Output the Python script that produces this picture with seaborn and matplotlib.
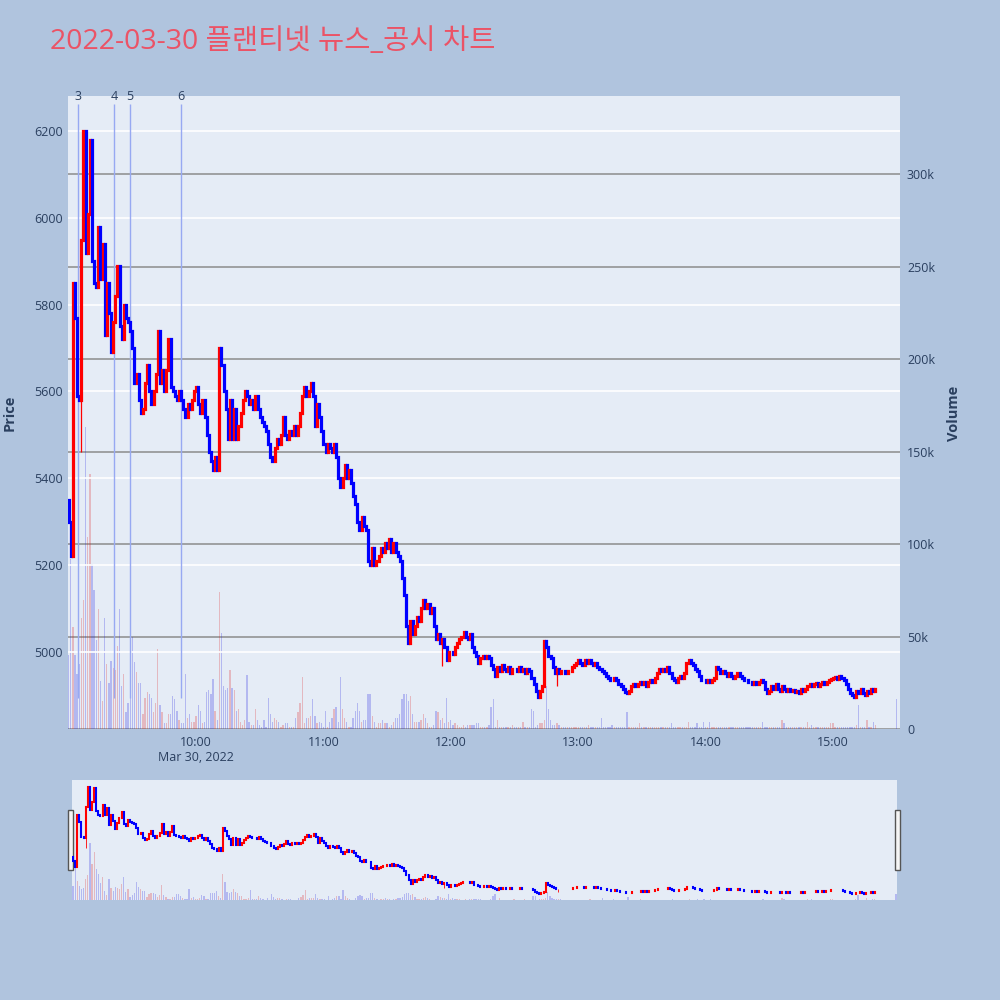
import numpy as np
import pandas as pd
import matplotlib.pyplot as plt
import matplotlib.patches as mpatches
import seaborn as sns

sns.set_theme(style="white")
plt.rcParams['font.family'] = ['Open Sans', 'Noto Sans CJK KR', 'DejaVu Sans']

TITLE = '2022-03-30 플랜티넷 뉴스_공시 차트'

# 1분봉 종가 (09:00 ~ 15:20), 시가 = 직전 종가
first_open = 5350
close_09 = [5300, 5220, 5850, 5770, 5590, 5580, 5950, 6200, 5920, 6010,
            6180, 5900, 5850, 5840, 5980, 5860, 5940, 5730, 5850, 5780,
            5690, 5760, 5820, 5890, 5750, 5720, 5800, 5770, 5760, 5740,
            5700, 5620, 5640, 5580, 5550, 5560, 5620, 5660, 5600, 5570,
            5600, 5640, 5740, 5620, 5650, 5600, 5650, 5720, 5610, 5600,
            5590, 5580, 5600, 5580, 5560, 5540, 5570, 5560, 5580, 5600]
close_10 = [5610, 5570, 5550, 5580, 5540, 5500, 5460, 5440, 5420, 5450,
            5420, 5700, 5660, 5600, 5560, 5490, 5580, 5490, 5560, 5490,
            5520, 5550, 5580, 5600, 5590, 5570, 5580, 5560, 5590, 5560,
            5540, 5530, 5520, 5510, 5480, 5450, 5440, 5470, 5490, 5480,
            5500, 5540, 5500, 5490, 5510, 5500, 5520, 5500, 5520, 5550,
            5590, 5610, 5590, 5600, 5620, 5590, 5520, 5570, 5540, 5510]
close_11 = [5480, 5460, 5480, 5470, 5460, 5480, 5450, 5400, 5380, 5400,
            5430, 5400, 5420, 5390, 5360, 5340, 5300, 5280, 5310, 5290,
            5280, 5210, 5200, 5240, 5200, 5210, 5220, 5240, 5230, 5250,
            5240, 5260, 5230, 5250, 5230, 5220, 5210, 5170, 5130, 5060,
            5020, 5070, 5040, 5060, 5080, 5070, 5100, 5120, 5100, 5110,
            5090, 5100, 5060, 5030, 5040, 5020, 5030, 5010, 4980, 5000]
close_12 = [5000, 4995, 5010, 5020, 5030, 5035, 5045, 5035, 5030, 5040,
            5010, 5000, 4990, 4975, 4985, 4990, 4985, 4990, 4985, 4970,
            4960, 4945, 4965, 4955, 4970, 4960, 4955, 4965, 4950, 4960,
            4960, 4955, 4965, 4955, 4960, 4950, 4960, 4955, 4940, 4925,
            4910, 4895, 4910, 4920, 5025, 5010, 4990, 4985, 4965, 4950,
            4960, 4950, 4955, 4955, 4950, 4955, 4955, 4965, 4970, 4975]
close_13 = [4980, 4975, 4970, 4980, 4975, 4980, 4975, 4970, 4975, 4965,
            4960, 4955, 4950, 4945, 4940, 4935, 4935, 4940, 4935, 4925,
            4920, 4915, 4908, 4905, 4910, 4920, 4925, 4920, 4925, 4930,
            4925, 4930, 4920, 4930, 4935, 4930, 4940, 4950, 4960, 4955,
            4960, 4955, 4965, 4950, 4940, 4935, 4930, 4940, 4945, 4940,
            4950, 4975, 4980, 4975, 4970, 4960, 4955, 4945, 4935, 4935]
close_14 = [4930, 4935, 4930, 4935, 4940, 4965, 4960, 4950, 4955, 4950,
            4945, 4950, 4945, 4940, 4945, 4950, 4945, 4940, 4935, 4935,
            4930, 4930, 4925, 4930, 4925, 4930, 4935, 4930, 4915, 4905,
            4910, 4920, 4915, 4925, 4915, 4910, 4920, 4915, 4910, 4915,
            4910, 4912, 4908, 4910, 4905, 4915, 4910, 4915, 4920, 4925,
            4920, 4925, 4928, 4922, 4925, 4930, 4925, 4930, 4935, 4938]
close_15 = [4940, 4942, 4938, 4945, 4940, 4935, 4925, 4915, 4905, 4900,
            4895, 4910, 4905, 4915, 4905, 4900, 4910, 4905, 4915, 4910,
            4915]

# 거래량 (천주)
volume_09 = [40, 92, 55, 40, 30, 35, 60, 70, 163, 104,
             138, 89, 75, 48, 65, 26, 15, 60, 35, 25,
             37, 33, 32, 45, 65, 23, 30, 9, 14, 19,
             50, 36, 31, 25, 25, 8, 17, 20, 19, 17,
             9, 14, 43, 13, 9, 3, 3, 8, 8, 18,
             16, 10, 5, 3, 3, 30, 6, 8, 4, 4]
volume_10 = [7, 13, 10, 3, 4, 20, 21, 19, 27, 10,
             5, 74, 52, 23, 21, 22, 32, 22, 21, 10,
             11, 4, 2, 5, 29, 4, 2, 2, 11, 5,
             2, 1, 5, 1, 17, 8, 4, 6, 5, 4,
             1, 2, 3, 3, 1, 1, 1, 6, 9, 14,
             28, 3, 6, 6, 7, 16, 7, 3, 4, 3]
volume_11 = [1, 10, 1, 4, 6, 11, 12, 4, 28, 11,
             6, 4, 1, 1, 6, 10, 14, 10, 4, 5,
             5, 19, 19, 7, 4, 1, 3, 3, 5, 3,
             3, 1, 2, 4, 6, 6, 8, 16, 19, 19,
             15, 18, 8, 4, 4, 4, 5, 8, 6, 3,
             1, 1, 2, 10, 9, 5, 6, 3, 17, 4]
volume_12 = [5, 2, 3, 2, 1, 1, 2, 1, 2, 2,
             2, 2, 3, 3, 1, 1, 1, 1, 2, 12,
             16, 1, 5, 1, 1, 1, 1, 1, 1, 2,
             1, 1, 1, 1, 4, 1, 1, 1, 11, 10,
             1, 2, 3, 3, 5, 23, 11, 5, 2, 2,
             3, 2, 1, 1, 1, 1, 1, 1, 1, 1]
volume_13 = [1, 1, 1, 1, 1, 2, 1, 1, 1, 1,
             1, 6, 1, 1, 1, 1, 2, 1, 1, 1,
             1, 1, 1, 9, 1, 1, 1, 1, 1, 3,
             1, 1, 1, 1, 1, 1, 1, 1, 1, 1,
             1, 1, 1, 1, 3, 1, 1, 1, 1, 1,
             1, 1, 4, 1, 1, 1, 3, 1, 1, 4]
volume_14 = [1, 1, 4, 1, 1, 1, 1, 1, 1, 1,
             1, 1, 1, 1, 1, 1, 1, 1, 1, 1,
             1, 1, 1, 1, 1, 1, 1, 4, 1, 1,
             1, 1, 1, 1, 1, 1, 5, 3, 1, 1,
             1, 1, 1, 1, 1, 1, 1, 1, 4, 1,
             2, 1, 1, 1, 1, 1, 1, 1, 1, 3]
volume_15 = [3, 1, 1, 1, 1, 1, 1, 1, 1, 1,
             1, 2, 13, 1, 1, 1, 5, 1, 1, 4,
             2]

# 15:30 동시호가
auction_minute = 390
auction_close = 4915
auction_volume = 16

# 꼬리가 보이는 봉 (분: 저가)
wick_lows = {6: 5460, 176: 4968, 230: 4920}

# 뉴스/공시 시각
news_times = ['09:04:24', '09:21:24', '09:29:00', '09:53:00']
news_labels = ['3', '4', '5', '6']

hour_ticks = [60, 120, 180, 240, 300, 360]
hour_labels = ['10:00\nMar 30, 2022', '11:00', '12:00', '13:00', '14:00', '15:00']
price_ticks = [5000, 5200, 5400, 5600, 5800, 6000, 6200]
volume_ticks = [0, 50, 100, 150, 200, 250, 300]
volume_labels = ['0', '50k', '100k', '150k', '200k', '250k', '300k']

# ---- 데이터 정리 ----
closes = np.array(close_09 + close_10 + close_11 + close_12 + close_13 + close_14 + close_15 + [auction_close], float)
volumes = np.array(volume_09 + volume_10 + volume_11 + volume_12 + volume_13 + volume_14 + volume_15 + [auction_volume], float)
minutes = np.r_[np.arange(len(closes) - 1), auction_minute]
opens = np.r_[first_open, closes[:-1]]
highs = np.maximum(opens, closes)
lows = np.minimum(opens, closes)
for m, lo in wick_lows.items():
    lows[m] = lo

df = pd.DataFrame({'minute': minutes, 'open': opens, 'close': closes,
                   'high': highs, 'low': lows, 'volume': volumes})
df['candle_up'] = df['close'] >= df['open']
df['vol_dir'] = np.where(df['close'] > df['open'], 'up', 'down')

news_min = [(pd.to_timedelta(t) - pd.Timedelta(hours=9)).total_seconds() / 60 for t in news_times]

PLOT_BG = '#E5ECF6'
TEXT_C = '#2a3f5f'
UP_C, DOWN_C = '#FF0000', '#0000FF'
P_LIM = (4822, 6281)
V_LIM = (0, 342.2)


def draw_chart(ax_p, ax_v, body_lw, wick_lw, bar_w):
    sns.barplot(data=df, x='minute', y='volume', hue='vol_dir', hue_order=['up', 'down'],
                palette={'up': UP_C, 'down': DOWN_C}, native_scale=True, dodge=False,
                width=bar_w, alpha=0.25, linewidth=0, errorbar=None, legend=False, ax=ax_v)
    ax_v.set_ylim(*V_LIM)
    colors = np.where(df['candle_up'], UP_C, DOWN_C)
    ax_p.vlines(df['minute'], df['low'], df['high'], colors=colors, linewidth=wick_lw, zorder=3)
    ax_p.vlines(df['minute'], df['open'], df['close'], colors=colors, linewidth=body_lw,
                capstyle='projecting', zorder=4)
    ax_p.set_ylim(*P_LIM)
    ax_p.set_zorder(ax_v.get_zorder() + 1)
    ax_p.patch.set_visible(False)
    ax_v.patch.set_visible(True)
    ax_v.patch.set_facecolor(PLOT_BG)
    for a in (ax_p, ax_v):
        a.set_xlabel('')
        a.set_ylabel('')
        for s in a.spines.values():
            s.set_visible(False)


fig = plt.figure(figsize=(10, 10), dpi=100, facecolor='#B0C4DE')

# ---- 메인 차트 ----
ax = fig.add_axes([0.068, 0.271, 0.832, 0.633])
ax_vol = ax.twinx()
draw_chart(ax, ax_vol, body_lw=2.3, wick_lw=0.9, bar_w=0.6)
ax.set_xlim(-0.3, 391.6)

ax_vol.set_yticks(volume_ticks)
ax_vol.set_yticklabels(volume_labels)
ax_vol.grid(True, axis='y', color='#8c8c8c', linewidth=1.1)
ax_vol.grid(False, axis='x')
ax_vol.tick_params(axis='y', length=0, pad=5, labelsize=9, labelcolor=TEXT_C)

ax.set_yticks(price_ticks)
ax.grid(True, axis='y', color='white', linewidth=1.2)
ax.grid(False, axis='x')
ax.set_axisbelow(True)
ax.tick_params(axis='y', length=0, pad=4, labelsize=9, labelcolor=TEXT_C)
ax.set_xticks(hour_ticks)
ax.set_xticklabels(hour_labels)
ax.tick_params(axis='x', length=0, pad=5, labelsize=9, labelcolor=TEXT_C)

ax.vlines(news_min, 4894, 6263, colors='#97A9F2', linewidth=1.0, zorder=2)
for xm, lab in zip(news_min, news_labels):
    ax.text(xm, 6266, lab, ha='center', va='bottom', fontsize=9, color=TEXT_C)

fig.text(0.010, 0.587, 'Price', rotation=90, ha='center', va='center',
         fontsize=10.5, fontweight='bold', color=TEXT_C)
fig.text(0.954, 0.587, 'Volume', rotation=90, ha='center', va='center',
         fontsize=10.5, fontweight='bold', color=TEXT_C)
fig.text(0.050, 0.958, TITLE, ha='left', va='center', fontsize=20.5, color='#EB5366')

# ---- 레인지 슬라이더 ----
ax_s = fig.add_axes([0.072, 0.100, 0.825, 0.120])
ax_sv = ax_s.twinx()
draw_chart(ax_s, ax_sv, body_lw=1.5, wick_lw=0.6, bar_w=0.6)
ax_s.set_xlim(-0.5, 390.5)
for a in (ax_s, ax_sv):
    a.set_xticks([])
    a.set_yticks([])
    a.grid(False)

for hx in (0.068, 0.895):
    fig.add_artist(mpatches.Rectangle((hx, 0.130), 0.005, 0.060, transform=fig.transFigure,
                                      facecolor='#f5f5f5', edgecolor='#555555', linewidth=1))

fig.savefig('out.png', dpi=100, facecolor=fig.get_facecolor())
